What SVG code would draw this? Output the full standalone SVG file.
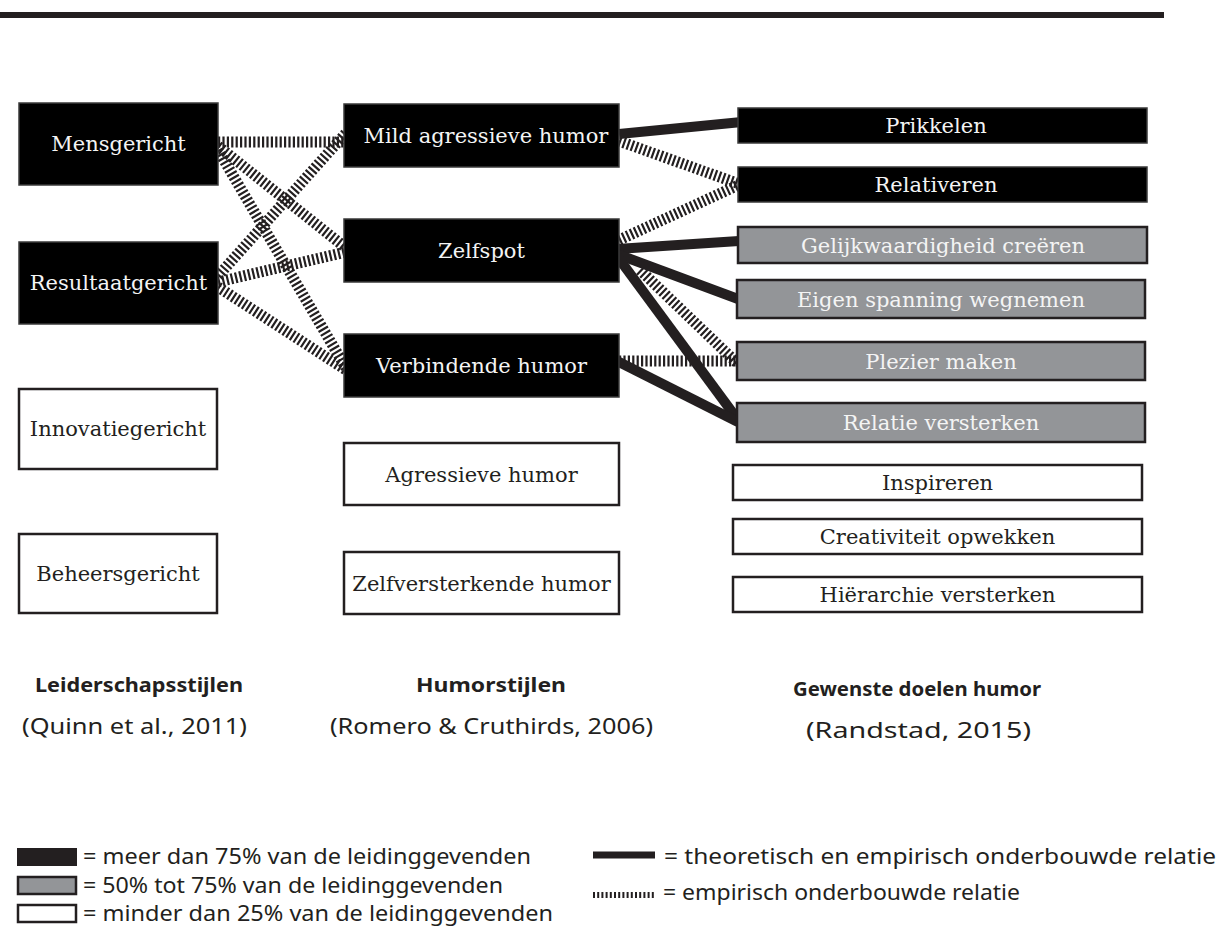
<svg xmlns="http://www.w3.org/2000/svg" width="1221" height="942" viewBox="0 0 1221 942">
<style>
.bk{fill:#000;stroke:#3a3a3a;stroke-width:1.5}
.gr{fill:#939598;stroke:#231f20;stroke-width:2.5}
.wh{fill:#fff;stroke:#231f20;stroke-width:2.5}
.t{font-family:"DejaVu Serif",serif;font-size:21px;text-anchor:middle}
.tw{fill:#f4f4f4}
.td{fill:#231f20}
.solid{stroke:#231f20;stroke-width:10;fill:none}
.hatch{stroke:#231f20;stroke-width:11;stroke-dasharray:2.2 2.2;fill:none}
.h{font-family:"Noto Sans","Open Sans",sans-serif;font-size:20px;font-weight:bold;fill:#231f20;text-anchor:middle}
.c{font-family:"Noto Sans","Open Sans",sans-serif;font-size:21px;fill:#231f20;text-anchor:middle}
.l{font-family:"Noto Sans","Open Sans",sans-serif;font-size:21px;fill:#231f20}
</style>
<rect x="0" y="12" width="1164" height="6" fill="#231f20"/>
<g id="connectors">
<line class="hatch" x1="218" y1="142" x2="346" y2="142"/>
<line class="hatch" x1="218" y1="146" x2="346" y2="248"/>
<line class="hatch" x1="218" y1="150" x2="346" y2="368"/>
<line class="hatch" x1="218" y1="276" x2="346" y2="133"/>
<line class="hatch" x1="218" y1="282" x2="346" y2="252"/>
<line class="hatch" x1="218" y1="287" x2="346" y2="370"/>
<line class="hatch" x1="619" y1="141" x2="745" y2="186"/>
<line class="hatch" x1="619" y1="240" x2="745" y2="182"/>
<line class="hatch" x1="640" y1="270" x2="738" y2="364"/>
<line class="hatch" x1="619" y1="361" x2="738" y2="361"/>
<line class="solid" x1="619" y1="134" x2="752" y2="121"/>
<line class="solid" x1="617" y1="249" x2="739" y2="241"/>
<line class="solid" x1="617" y1="254" x2="738" y2="299"/>
<line class="solid" x1="617" y1="256" x2="738" y2="420"/>
<line class="solid" x1="617" y1="361" x2="738" y2="422"/>
</g>
<g id="n-mensgericht"><rect class="bk" x="19" y="103" width="199" height="82"/><text class="t tw" x="118.5" y="151">Mensgericht</text></g>
<g id="n-resultaatgericht"><rect class="bk" x="19" y="242" width="199" height="82"/><text class="t tw" x="118.5" y="290">Resultaatgericht</text></g>
<g id="n-innovatiegericht"><rect class="wh" x="19" y="389" width="198" height="80"/><text class="t td" x="118" y="436">Innovatiegericht</text></g>
<g id="n-beheersgericht"><rect class="wh" x="19" y="534" width="198" height="79"/><text class="t td" x="118" y="581">Beheersgericht</text></g>
<g id="n-mild"><rect class="bk" x="344" y="104" width="275" height="63"/><text class="t tw" x="486" y="143">Mild agressieve humor</text></g>
<g id="n-zelfspot"><rect class="bk" x="344" y="219" width="275" height="63"/><text class="t tw" x="481.5" y="258">Zelfspot</text></g>
<g id="n-verbindende"><rect class="bk" x="344" y="334" width="275" height="63"/><text class="t tw" x="481.5" y="373">Verbindende humor</text></g>
<g id="n-agressieve"><rect class="wh" x="344" y="443" width="275" height="62"/><text class="t td" x="481.5" y="482">Agressieve humor</text></g>
<g id="n-zelfversterkende"><rect class="wh" x="344" y="552" width="275" height="62"/><text class="t td" x="481.5" y="591">Zelfversterkende humor</text></g>
<g id="n-prikkelen"><rect class="bk" x="738" y="108" width="409" height="35"/><text class="t tw" x="936" y="133">Prikkelen</text></g>
<g id="n-relativeren"><rect class="bk" x="738" y="167" width="409" height="35"/><text class="t tw" x="936" y="192">Relativeren</text></g>
<g id="n-gelijkwaardigheid"><rect class="gr" x="738" y="227" width="409" height="36"/><text class="t tw" x="943" y="253">Gelijkwaardigheid creëren</text></g>
<g id="n-eigen"><rect class="gr" x="737" y="280" width="408" height="38"/><text class="t tw" x="941" y="307">Eigen spanning wegnemen</text></g>
<g id="n-plezier"><rect class="gr" x="737" y="342" width="408" height="38"/><text class="t tw" x="941" y="369">Plezier maken</text></g>
<g id="n-relatie"><rect class="gr" x="737" y="403" width="408" height="39"/><text class="t tw" x="941" y="430">Relatie versterken</text></g>
<g id="n-inspireren"><rect class="wh" x="733" y="465" width="409" height="35"/><text class="t td" x="937.5" y="490">Inspireren</text></g>
<g id="n-creativiteit"><rect class="wh" x="733" y="519" width="409" height="35"/><text class="t td" x="937.5" y="544">Creativiteit opwekken</text></g>
<g id="n-hierarchie"><rect class="wh" x="733" y="577" width="409" height="35"/><text class="t td" x="937.5" y="602">Hiërarchie versterken</text></g>
<g id="headers">
<text class="h" x="139" y="692" textLength="208" lengthAdjust="spacingAndGlyphs">Leiderschapsstijlen</text>
<text class="c" x="134.5" y="734" textLength="225" lengthAdjust="spacingAndGlyphs">(Quinn et al., 2011)</text>
<text class="h" x="491" y="692" textLength="150" lengthAdjust="spacingAndGlyphs">Humorstijlen</text>
<text class="c" x="491.5" y="734" textLength="323" lengthAdjust="spacingAndGlyphs">(Romero &amp; Cruthirds, 2006)</text>
<text class="h" x="917" y="696" textLength="248" lengthAdjust="spacingAndGlyphs">Gewenste doelen humor</text>
<text class="c" x="918.5" y="738" textLength="225" lengthAdjust="spacingAndGlyphs">(Randstad, 2015)</text>
</g>
<g id="legend">
<rect x="17.5" y="848.5" width="59" height="17" fill="#231f20" stroke="#231f20"/>
<rect x="18" y="877" width="58" height="17" fill="#939598" stroke="#231f20" stroke-width="2.5"/>
<rect x="18" y="905" width="58" height="17" fill="#fff" stroke="#231f20" stroke-width="2.5"/>
<text class="l" x="83" y="864" textLength="448" lengthAdjust="spacingAndGlyphs">= meer dan 75% van de leidinggevenden</text>
<text class="l" x="83" y="893" textLength="420" lengthAdjust="spacingAndGlyphs">= 50% tot 75% van de leidinggevenden</text>
<text class="l" x="83" y="921" textLength="470" lengthAdjust="spacingAndGlyphs">= minder dan 25% van de leidinggevenden</text>
<line x1="593" y1="855" x2="655" y2="855" stroke="#231f20" stroke-width="7"/>
<line x1="593" y1="895" x2="655" y2="895" stroke="#231f20" stroke-width="6" stroke-dasharray="2 2.2"/>
<text class="l" x="664" y="864" textLength="552" lengthAdjust="spacingAndGlyphs">= theoretisch en empirisch onderbouwde relatie</text>
<text class="l" x="663" y="900" textLength="357" lengthAdjust="spacingAndGlyphs">= empirisch onderbouwde relatie</text>
</g>
</svg>
